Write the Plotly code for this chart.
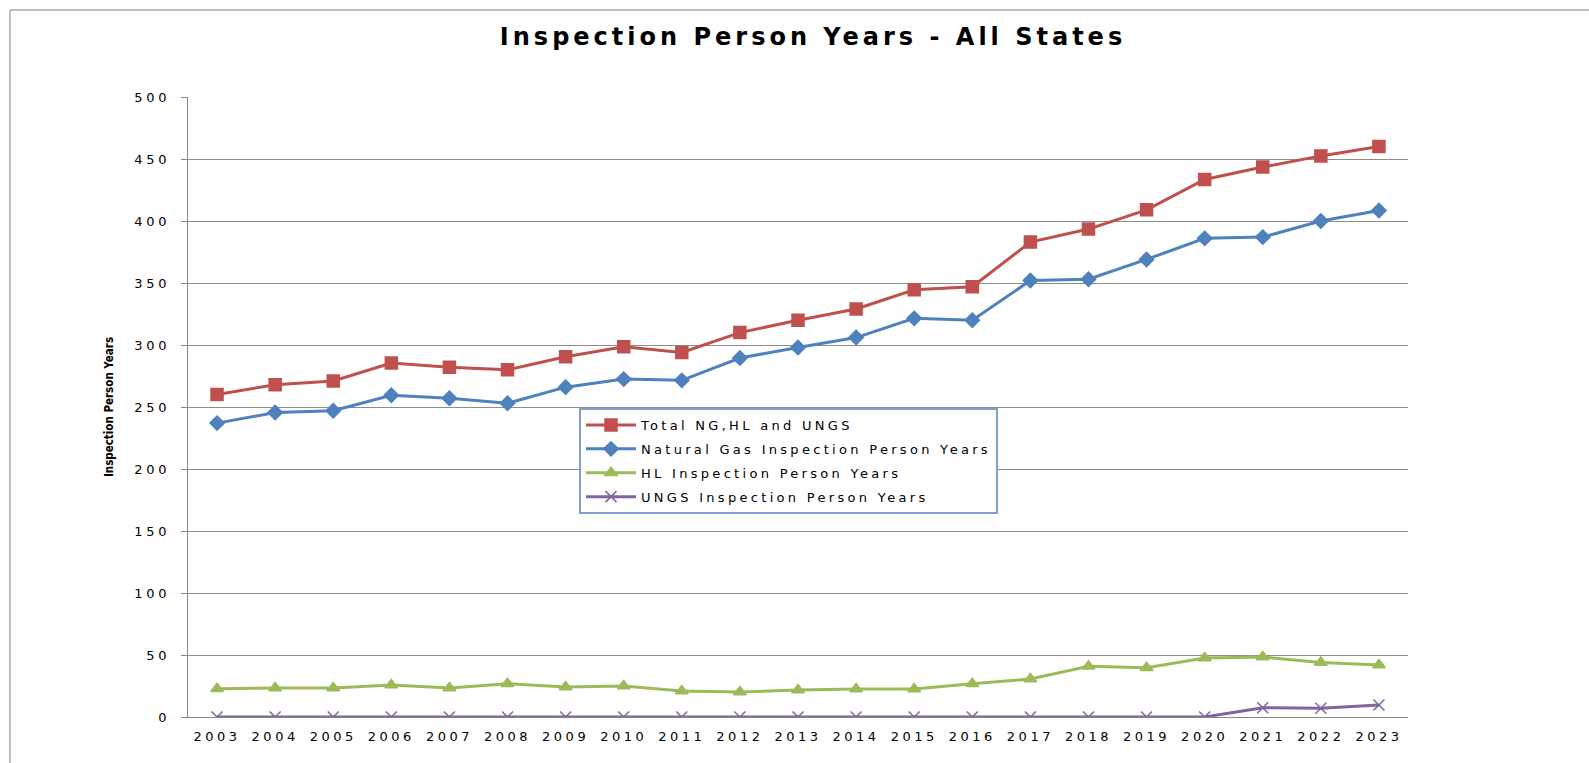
import plotly.graph_objects as go

years = [str(y) for y in range(2003, 2024)]
total = [260, 268, 271, 285.5, 282, 280, 290.5, 298.5, 294, 310, 320, 329, 344.5, 347, 383, 393.5, 409, 433.5, 443.5, 452.5, 460]
natural_gas = [237, 245.5, 247, 259.5, 257, 253, 266, 272.5, 271.5, 289.5, 298, 306, 321.5, 320, 352, 353, 369, 386, 387, 400, 408.5]
hl = [22.8, 23.4, 23.4, 25.8, 23.4, 26.9, 24.2, 25, 21, 20.2, 21.8, 22.6, 22.6, 26.9, 30.6, 40.9, 39.8, 47.6, 48.4, 44, 42]
ungs = [0, 0, 0, 0, 0, 0, 0, 0, 0, 0, 0, 0, 0, 0, 0, 0, 0, 0, 7.5, 7, 9.7]
y_ticks = list(range(0, 501, 50))

names = ["Total NG,HL and UNGS", "Natural Gas Inspection Person Years",
         "HL Inspection Person Years", "UNGS Inspection Person Years"]
title_text = "Inspection Person Years - All States"
y_title = "Inspection Person Years"

colors = ["#C0504D", "#4F81BD", "#9BBB59", "#8064A2"]
symbols = ["square", "diamond", "triangle-up", "x-thin"]
sizes = [12, 11, 11, 11]


def spaced(s, ls):
    return f'<span style="letter-spacing:{ls}px">{s}</span>'


fig = go.Figure()
for i, (vals, nm) in enumerate(zip([total, natural_gas, hl, ungs], names)):
    fig.add_trace(go.Scatter(
        x=years, y=vals, name=spaced(nm, 3.3), mode="lines+markers",
        legendgroup=f"g{i}",
        line=dict(color=colors[i], width=3),
        marker=dict(symbol=symbols[i], size=sizes[i], color=colors[i],
                    line=dict(color=colors[i], width=1.5)),
    ))

L, R, T, B = 188, 181, 97, 46
W, H = 1589, 763
pw, ph = W - L - R, H - T - B


def px(x):
    return (x - L) / pw


def py(y):
    return (H - B - y) / ph


fig.update_layout(
    width=W, height=H,
    margin=dict(l=L, r=R, t=T, b=B),
    paper_bgcolor="white", plot_bgcolor="white",
    font=dict(family="DejaVu Sans", size=13, color="#000000"),
    title=dict(text="<b>" + spaced(title_text, 4.0) + "</b>",
               x=813 / W, xanchor="center", xref="container",
               y=1 - 37 / H, yanchor="middle",
               font=dict(family="DejaVu Sans", size=24, color="#000000")),
    showlegend=True,
    legend=dict(
        x=px(579), y=py(408), xanchor="left", yanchor="top",
        bgcolor="white", bordercolor="#7F9FD0", borderwidth=2,
        font=dict(family="DejaVu Sans", size=13, color="#000000"),
        traceorder="grouped", tracegroupgap=4,
        itemwidth=50,
    ),
    xaxis=dict(
        type="category", range=[-0.5, len(years) - 0.5],
        showgrid=False, showline=True,
        linecolor="#868686", linewidth=1, ticks="",
        tickvals=years, ticktext=[spaced(y, 3.5) for y in years],
        tickfont=dict(family="DejaVu Sans", size=13, color="#000000"),
        ticklabelstandoff=7, zeroline=False,
    ),
    yaxis=dict(
        range=[0, 500], showgrid=True, gridcolor="#8C8C8C", gridwidth=1,
        tickvals=y_ticks, ticktext=[spaced(str(v), 3.8) for v in y_ticks],
        showline=True, linecolor="#868686", linewidth=1,
        ticks="outside", ticklen=6, tickcolor="#868686",
        tickfont=dict(family="DejaVu Sans", size=13, color="#000000"),
        ticklabelstandoff=8, zeroline=False,
        title=dict(text="<b>" + y_title + "</b>", standoff=18,
                   font=dict(family="DejaVu Sans Condensed", size=11.5, color="#000000")),
    ),
    shapes=[
        dict(type="rect", xref="paper", yref="paper",
             x0=px(10), x1=px(1600), y0=py(775), y1=py(10),
             line=dict(color="#808080", width=1), fillcolor="rgba(0,0,0,0)", layer="below"),
    ],
)

fig.write_html("out.html", config={"displayModeBar": False},
               post_script="document.body.style.margin='0';document.body.style.padding='0';")
